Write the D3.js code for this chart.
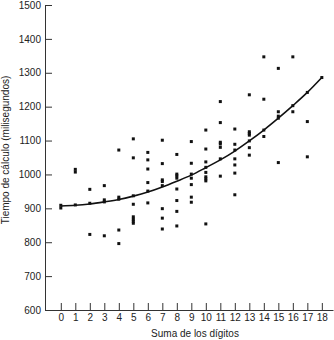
<html>
<head>
  <style>
    body { margin: 0; background: #fff; }
    svg text { font-family: "Liberation Sans", Arial, sans-serif; font-size: 10px; fill: #222; }
    svg .domain { stroke: #333; stroke-width: 1px; }
    svg .tick line { stroke: #333; stroke-width: 1px; }
    svg .fit { stroke: #111; stroke-width: 1.6px; fill: none; }
  </style>
</head>
<body>
  <div id="chart"></div>
  <script src="https://cdn.jsdelivr.net/npm/d3@7"></script>
  <script>
// digit sums on the x axis
var digitSums = d3.range(0, 19);

// measured times (ms) for each digit sum, index = digit sum
var timesBySum = [
  [901, 909],
  [910, 1007, 1015],
  [823, 915, 956],
  [819, 919, 925, 967],
  [796, 836, 927, 933, 1072],
  [856, 862, 868, 875, 912, 937, 1049, 1105],
  [916, 951, 976, 1016, 1043, 1065],
  [839, 871, 899, 967, 979, 984, 1032, 1101],
  [848, 891, 923, 957, 989, 996, 1001, 1059],
  [918, 933, 970, 989, 1001, 1033, 1097],
  [854, 981, 987, 993, 1006, 1021, 1037, 1075, 1131],
  [995, 1046, 1080, 1090, 1095, 1153, 1215],
  [940, 1004, 1028, 1046, 1072, 1089, 1134],
  [1057, 1079, 1099, 1116, 1121, 1126, 1235],
  [1112, 1131, 1222, 1347],
  [1035, 1166, 1172, 1185, 1313],
  [1185, 1203, 1347],
  [1052, 1156, 1242],
  [1286]
];

// fitted curve at each digit sum
var fitTimes = [907, 909, 913, 919, 926, 936, 948, 963, 980, 998,
                1020, 1043, 1069, 1099, 1131, 1166, 1203, 1242, 1286];

var yTicks = [600, 700, 800, 900, 1000, 1100, 1200, 1300, 1400, 1500];

(function () {
  var width = 334, height = 340;
  var left = 45, right = 333, top = 5, bottom = 310;

  var svg = d3.select("#chart")
    .append("svg")
      .attr("width", width)
      .attr("height", height);

  var xScale = d3.scaleLinear().domain([-1.09, 18.77]).range([left, right]);
  var yScale = d3.scaleLinear().domain([600, 1500]).range([bottom, top]);

  // x axis, ticks pointing up
  svg.append("g")
      .attr("transform", "translate(0," + bottom + ")")
      .call(d3.axisBottom(xScale)
        .tickValues(digitSums)
        .tickFormat(d3.format("d"))
        .tickSize(-7)
        .tickSizeOuter(0)
        .tickPadding(4));

  // y axis, ticks pointing right
  svg.append("g")
      .attr("transform", "translate(" + left + ",0)")
      .call(d3.axisLeft(yScale)
        .tickValues(yTicks)
        .tickFormat(d3.format("d"))
        .tickSize(-7)
        .tickSizeOuter(0)
        .tickPadding(4));

  svg.selectAll(".tick text").style("font-size", "10px");

  // axis titles
  svg.append("text")
      .attr("x", 195)
      .attr("y", 337)
      .style("text-anchor", "middle")
      .text("Suma de los dígitos");

  svg.append("text")
      .attr("transform", "translate(9,150) rotate(-90)")
      .style("text-anchor", "middle")
      .text("Tiempo de cálculo (milisegundos)");

  // fitted curve
  var line = d3.line()
    .x(function (d, i) { return xScale(digitSums[i]); })
    .y(function (d) { return yScale(d); })
    .curve(d3.curveMonotoneX);

  svg.append("path")
      .classed("fit", true)
      .attr("d", line(fitTimes));

  // points
  var points = [];
  timesBySum.forEach(function (arr, s) {
    arr.forEach(function (t) { points.push({ s: s, t: t }); });
  });

  svg.selectAll("rect.pt")
    .data(points)
    .enter().append("rect")
      .classed("pt", true)
      .attr("x", function (d) { return xScale(d.s) - 1.5; })
      .attr("y", function (d) { return yScale(d.t) - 1.5; })
      .attr("width", 3)
      .attr("height", 3)
      .style("fill", "#111");
})();
  </script>
</body>
</html>
